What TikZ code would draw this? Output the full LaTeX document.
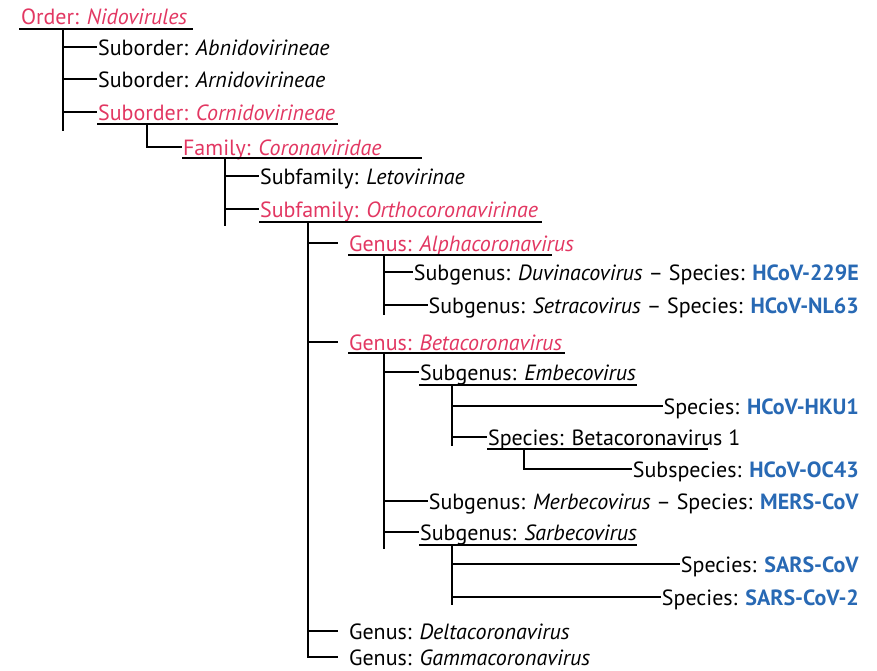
\documentclass[tikz,border=0pt]{standalone}
\usepackage{fontspec}
\setmainfont{PT Sans}
\definecolor{rk}{RGB}{226,55,98}
\definecolor{bl}{RGB}{40,105,180}
\newcommand{\spc}[1]{\textcolor{bl}{\textbf{#1}}}
\begin{document}
\begin{tikzpicture}[x=1pt,y=-1pt,line width=2.2pt,
  lab/.style={anchor=west,inner sep=0pt,text height=17pt,text depth=0pt,font=\fontsize{22}{26}\selectfont},
  labr/.style={lab,anchor=east},
  pk/.style={text=rk}]
\useasboundingbox (0,0) rectangle (877,670);

% nodes
\node[lab,pk] (order) at (20,16) {Order: \textit{Nidovirules}};
\node[lab] (abn) at (97,47) {Suborder: \textit{Abnidovirineae}};
\node[lab] (arn) at (97,79) {Suborder: \textit{Arnidovirineae}};
\node[lab,pk] (cor) at (97,112) {Suborder: \textit{Cornidovirineae}};
\node[lab,pk] (fam) at (182,147) {Family: \textit{Coronaviridae}};
\node[lab] (leto) at (259,176) {Subfamily: \textit{Letovirinae}};
\node[lab,pk] (ortho) at (259,209) {Subfamily: \textit{Orthocoronavirinae}};
\node[lab,pk] (alpha) at (348,243) {Genus: \textit{Alphacoronavirus}};
\node[labr] (duv) at (860,272) {Subgenus: \textit{Duvinacovirus} -- Species: \spc{HCoV-229E}};
\node[labr] (setr) at (860,305) {Subgenus: \textit{Setracovirus} -- Species: \spc{HCoV-NL63}};
\node[lab,pk] (beta) at (348,342) {Genus: \textit{Betacoronavirus}};
\node[lab] (emb) at (419,372) {Subgenus: \textit{Embecovirus}};
\node[labr] (hku) at (860,406) {Species: \spc{HCoV-HKU1}};
\node[lab] (b1) at (487,437) {Species: Betacoronavirus 1};
\node[labr] (oc) at (860,469) {Subspecies: \spc{HCoV-OC43}};
\node[labr] (merb) at (860,501) {Subgenus: \textit{Merbecovirus} -- Species: \spc{MERS-CoV}};
\node[lab] (sarb) at (419,532) {Subgenus: \textit{Sarbecovirus}};
\node[labr] (sars) at (860,564) {Species: \spc{SARS-CoV}};
\node[labr] (sars2) at (860,597) {Species: \spc{SARS-CoV-2}};
\node[lab] (delta) at (348,631) {Genus: \textit{Deltacoronavirus}};
\node[lab] (gamma) at (348,657) {Genus: \textit{Gammacoronavirus}};

% underlines
\draw (19,29) -- (193,29);
\draw (97,124) -- (338,124);
\draw (182,158) -- (422,158);
\draw (259,222) -- (542,222);
\draw (348,255) -- (552,255);
\draw (348,353) -- (565,353);
\draw (419,385) -- (637,385);
\draw (487,449) -- (708,449);
\draw (419,545) -- (637,545);

% trunks
\coordinate (v1t) at (63,29);   \coordinate (v1b) at (63,131);
\coordinate (v2t) at (147,124);
\coordinate (v3t) at (225,158); \coordinate (v3b) at (225,226);
\coordinate (v4t) at (308,222);
\coordinate (v5t) at (384,255); \coordinate (v5b) at (384,315);
\coordinate (v6t) at (384,353); \coordinate (v6b) at (384,549);
\coordinate (v7t) at (452,385); \coordinate (v7b) at (452,446);
\coordinate (v8t) at (524,449);
\coordinate (v9t) at (452,545); \coordinate (v9b) at (452,605);

\draw (v1t) -- (v1b);
\draw (v1t |- abn.west) -- (abn.west);
\draw (v1t |- arn.west) -- (arn.west);
\draw (v1t |- cor.west) -- (cor.west);

\draw (v2t) |- (fam.west);

\draw (v3t) -- (v3b);
\draw (v3t |- leto.west) -- (leto.west);
\draw (v3t |- ortho.west) -- (ortho.west);

\draw (v4t) |- ([xshift=-10pt]gamma.west);
\draw (v4t |- alpha.west) -- ([xshift=-10pt]alpha.west);
\draw (v4t |- beta.west) -- ([xshift=-10pt]beta.west);
\draw (v4t |- delta.west) -- ([xshift=-10pt]delta.west);

\draw (v5t) -- (v5b);
\draw (v5t |- duv.west) -- (duv.west);
\draw (v5t |- setr.west) -- (setr.west);

\draw (v6t) -- (v6b);
\draw (v6t |- emb.west) -- (emb.west);
\draw (v6t |- merb.west) -- (merb.west);
\draw (v6t |- sarb.west) -- (sarb.west);

\draw (v7t) -- (v7b);
\draw (v7t |- hku.west) -- (hku.west);
\draw (v7t |- b1.west) -- (b1.west);

\draw (v8t) |- (oc.west);

\draw (v9t) -- (v9b);
\draw (v9t |- sars.west) -- (sars.west);
\draw (v9t |- sars2.west) -- (sars2.west);
\end{tikzpicture}
\end{document}
